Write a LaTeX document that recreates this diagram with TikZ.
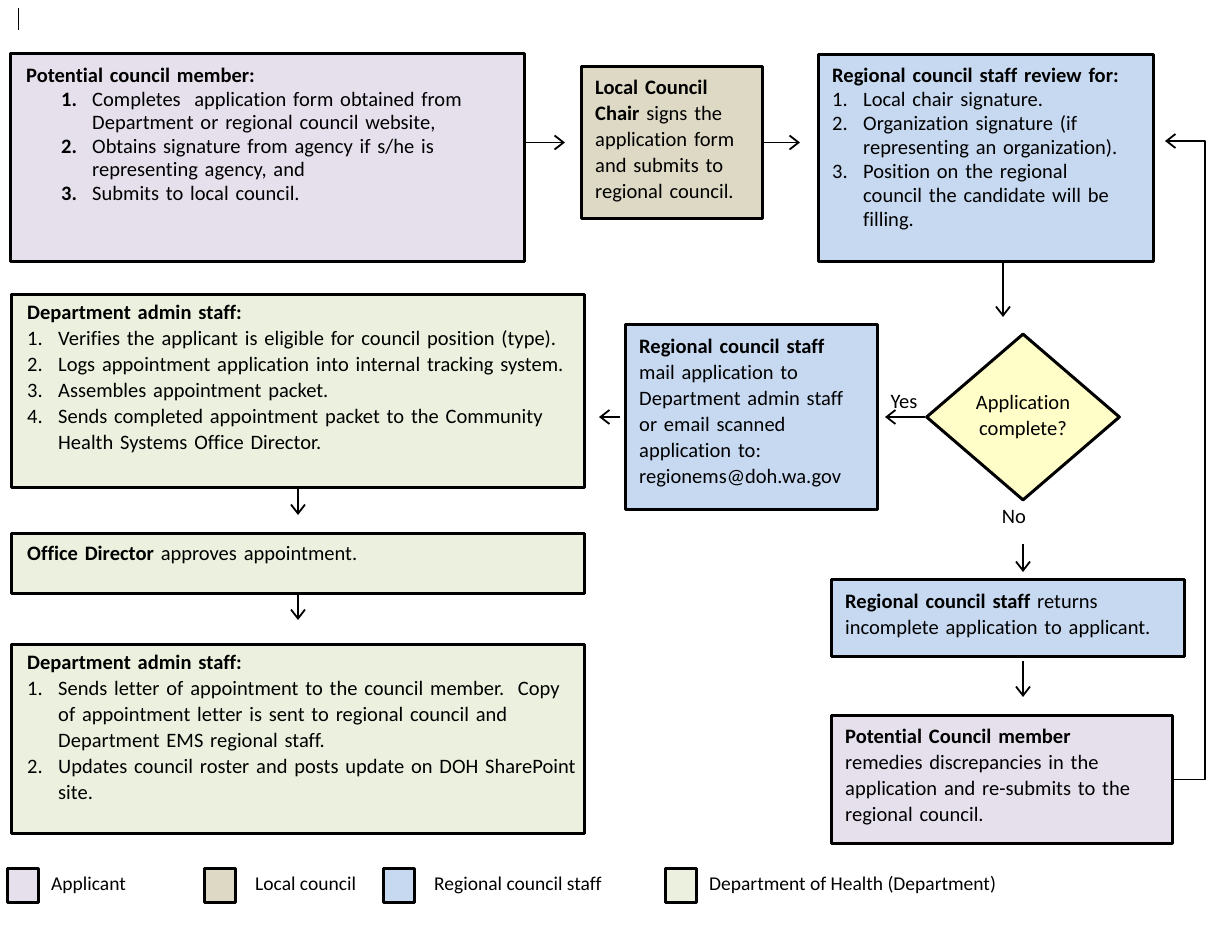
\documentclass[tikz,border=0pt]{standalone}
\usepackage{fontspec}
\setmainfont{Carlito}[Ligatures=NoCommon, RawFeature=-calt]
\usetikzlibrary{shapes.geometric,arrows.meta}
\definecolor{applicant}{HTML}{E5E0EC}
\definecolor{localc}{HTML}{DDD9C4}
\definecolor{regional}{HTML}{C6D9F1}
\definecolor{dept}{HTML}{EBF1DE}
\definecolor{decide}{HTML}{FFFDC8}
\newlength{\itemgap}\setlength{\itemgap}{31pt}
\newcommand{\stepitem}[3][0pt]{\par\leftskip=#1\relax\hangindent=\itemgap\hangafter=1\noindent\makebox[\itemgap][l]{#2}#3\par}
\begin{document}
\begin{tikzpicture}[x=1pt, y=-1pt, font={\fontsize{20.5}{26}\selectfont}, line join=round, >={Straight Barb[length=9pt,width=14pt]},
	stage/.style={draw, line width=3pt, anchor=north west, inner sep=0pt},
	words/.style={anchor=north west, inner sep=0pt, align=left, text width=#1},
	flow/.style={->, line width=1.8pt},
	key/.style={draw, line width=3pt, anchor=north west, minimum width=31, minimum height=34, inner sep=0pt}]
			%%Khung
			\useasboundingbox (0,0) rectangle (1212,926);
			\draw[line width=0.8pt] (18,8) -- (18,30);
			%%Hàng trên
			\node[stage, fill=applicant, minimum width=514, minimum height=208] (pcm) at (9,52) {};
			\node[words=485pt, font={\fontsize{20.5}{23.6}\selectfont}] (pcm-t) at (26,68) {\textbf{Potential council member:}
				\stepitem[35pt]{\textbf{1.}}{Completes\ \ application form obtained from\newline Department or regional council website,}
				\stepitem[35pt]{\textbf{2.}}{Obtains signature from agency if s/he is\newline representing agency, and}
				\stepitem[35pt]{\textbf{3.}}{Submits to local council.}};
			\node[stage, fill=localc, minimum width=181, minimum height=152] (lcc) at (580,65) {};
			\node[words=165pt] (lcc-t) at (595,80) {\textbf{Local Council}\newline \textbf{Chair} signs the\newline application form\newline and submits to\newline regional council.};
			\node[stage, fill=regional, minimum width=335, minimum height=207] (rcs) at (817,53) {};
			\node[words=318pt, font={\fontsize{20.5}{24}\selectfont}] (rcs-t) at (832,68) {\textbf{Regional council staff review for:}
				\stepitem{1.}{Local chair signature.}
				\stepitem{2.}{Organization signature (if\newline representing an organization).}
				\stepitem{3.}{Position on the regional\newline council the candidate will be\newline filling.}};
			%%Quyết định
			\node[diamond, draw, line width=3pt, fill=decide, minimum width=194, minimum height=167, inner sep=0pt, align=center] (dia) at (1023,417) {Application\\complete?};
			\node (yes) at (904,402) {Yes};
			\node (no) at (1014,517) {No};
			\node[stage, fill=regional, minimum width=252, minimum height=185] (mail) at (624,323) {};
			\node[words=240pt] (mail-t) at (639,339) {\textbf{Regional council staff}\newline mail application to\newline Department admin staff\newline or email scanned\newline application to:\newline regionems@doh.wa.gov};
			\node[stage, fill=regional, minimum width=353, minimum height=77] (hret) at (830,578) {};
			\node[words=335pt] (hret-t) at (845,594) {\textbf{Regional council staff} returns\newline incomplete application to applicant.};
			\node[stage, fill=applicant, minimum width=341, minimum height=128] (remedy) at (830,714) {};
			\node[words=325pt] (remedy-t) at (845,729) {\textbf{Potential Council member}\newline remedies discrepancies in the\newline application and re-submits to the\newline regional council.};
			%%Cột trái
			\node[stage, fill=dept, minimum width=573, minimum height=193] (dept1) at (10,293) {};
			\node[words=552pt] (dept1-t) at (27,305) {\textbf{Department admin staff:}
				\stepitem{1.}{Verifies the applicant is eligible for council position (type).}
				\stepitem{2.}{Logs appointment application into internal tracking system.}
				\stepitem{3.}{Assembles appointment packet.}
				\stepitem{4.}{Sends completed appointment packet to the Community\newline Health Systems Office Director.}};
			\node[stage, fill=dept, minimum width=573, minimum height=60] (odir) at (10,532) {};
			\node[words=552pt] (odir-t) at (27,546) {\textbf{Office Director} approves appointment.};
			\node[stage, fill=dept, minimum width=573, minimum height=189] (dept2) at (10,643) {};
			\node[words=554pt] (dept2-t) at (27,655) {\textbf{Department admin staff:}
				\stepitem{1.}{Sends letter of appointment to the council member.\ \ Copy\newline of appointment letter is sent to regional council and\newline Department EMS regional staff.}
				\stepitem{2.}{Updates council roster and posts update on DOH SharePoint\newline site.}};
			%%Mũi tên
			\coordinate (back) at (1205,141);
			\draw[flow, shorten >=15pt] (pcm.east |- lcc.west) -- (lcc.west);
			\draw[flow, shorten >=17pt] (lcc.east) -- (lcc.east -| rcs.west);
			\draw[flow, shorten >=15pt] ([xshift=-20pt]dia.north |- rcs.south) -- ([xshift=-20pt]dia.north);
			\draw[flow, shorten >=6pt] (dia.west) -- (dia.west -| mail.east);
			\draw[flow, shorten <=4pt, shorten >=13pt] (mail.west) -- (mail.west -| dept1.east);
			\draw[flow, shorten >=17pt] (dept1.south) -- (odir.north);
			\draw[flow, shorten >=23pt] (odir.south) -- (dept2.north);
			\draw[flow, shorten <=42pt, shorten >=6pt] (dia.south) -- (dia.south |- hret.north);
			\draw[flow, shorten <=3pt, shorten >=17pt] (dia.south |- hret.south) -- (dia.south |- remedy.north);
			\draw[flow, shorten >=10pt] (remedy.east) -| (back) -- (back -| rcs.east);
			%%Chú thích
			\foreach \c/\x/\tx/\t in {applicant/6/51/Applicant, localc/203/255/Local council, regional/382/434/Regional council staff, dept/664/709/Department of Health (Department)}{
				\node[key, fill=\c] (key-\c) at (\x,867) {};
				\node[anchor=base west, inner sep=0pt, font={\fontsize{19.5}{23}\selectfont}] (lab-\c) at (\tx,890) {\t};
			}
		\end{tikzpicture}
\end{document}
